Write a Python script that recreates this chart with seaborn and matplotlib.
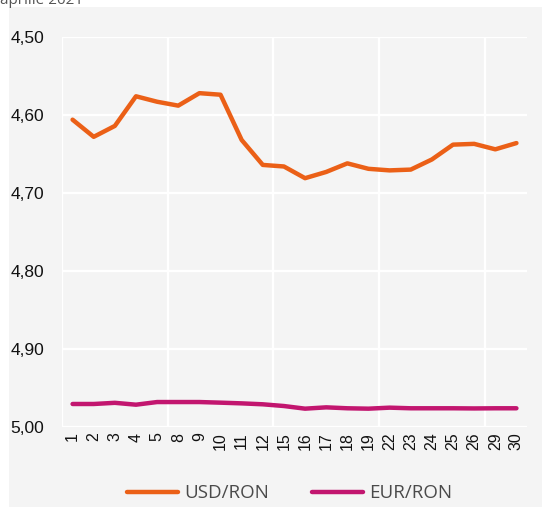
import pandas as pd
import numpy as np
import seaborn as sns
import matplotlib.pyplot as plt
from matplotlib.patches import Rectangle
from matplotlib.ticker import FuncFormatter


days = ['1', '2', '3', '4', '5', '8', '9', '10', '11', '12', '15', '16',
        '17', '18', '19', '22', '23', '24', '25', '26', '29', '30']
usd_ron = [4.606, 4.628, 4.614, 4.576, 4.583, 4.588, 4.572, 4.574, 4.632, 4.664, 4.666,
           4.681, 4.673, 4.662, 4.669, 4.671, 4.670, 4.657, 4.638, 4.637, 4.644, 4.636]
eur_ron = [4.9705, 4.9705, 4.969, 4.9714, 4.968, 4.968, 4.968, 4.9688, 4.9697, 4.9709, 4.9731,
           4.9765, 4.9748, 4.976, 4.9765, 4.9752, 4.976, 4.976, 4.976, 4.9762, 4.976, 4.976]
series_names = ['USD/RON', 'EUR/RON']
colors = ['#EB6017', '#C2166F']

df = pd.DataFrame({'zi': days * 2,
                   'curs': usd_ron + eur_ron,
                   'serie': [series_names[0]] * len(days) + [series_names[1]] * len(days)})

sns.set_style('white')
plt.rcParams['font.family'] = ['Liberation Sans', 'DejaVu Sans']

fig = plt.figure(figsize=(5.42, 5.07), dpi=100)
fig.patch.set_facecolor('white')
fig.patches.append(Rectangle((9 / 542, 0), 1, 500 / 507, transform=fig.transFigure,
                             facecolor='#F4F4F4', edgecolor='none', zorder=-5))
fig.text(0.0, 1.0, 'aprilie 2021', fontsize=11, color='#555555', va='center', ha='left',
         family=['Open Sans', 'DejaVu Sans'])

ax = fig.add_axes([62 / 542, 1 - 427 / 507, (527 - 62) / 542, (427 - 37) / 507])
ax.set_facecolor('#F4F4F4')

sns.lineplot(data=df, x='zi', y='curs', hue='serie', palette=colors, linewidth=3.2,
             ax=ax, sort=False, legend=True)

ax.set_xlim(-0.5, len(days) - 0.5)
ax.set_ylim(5.0, 4.5)
ax.set_yticks(np.arange(4.5, 5.0001, 0.1))
ax.yaxis.set_major_formatter(FuncFormatter(lambda v, p: f'{v:.2f}'.replace('.', ',')))

# vertical gridlines every 5 categories, between the ticks
for b in np.arange(-0.5, len(days), 5):
    ax.axvline(b, color='white', linewidth=1.6, zorder=0)
ax.grid(axis='y', which='major', color='white', linewidth=1.6)
ax.grid(axis='x', visible=False)
ax.set_axisbelow(True)
for s in ax.spines.values():
    s.set_visible(False)

ax.tick_params(axis='y', length=0, labelsize=12.5, pad=13, labelcolor='#111111')
ax.tick_params(axis='x', which='both', length=0, labelsize=11.5, rotation=90, pad=4,
               labelcolor='#111111')
ax.set_xlabel('')
ax.set_ylabel('')

handles, labels = ax.get_legend_handles_labels()
ax.legend(handles, labels, loc='center', bbox_to_anchor=(0.49, -0.17), ncol=2,
          frameon=False, handlelength=2.7, handletextpad=0.35, columnspacing=2.3,
          prop={'family': ['Open Sans', 'DejaVu Sans'], 'size': 13.5},
          labelcolor='#4A4A4A')

fig.savefig('out.png', dpi=100, facecolor=fig.get_facecolor())
